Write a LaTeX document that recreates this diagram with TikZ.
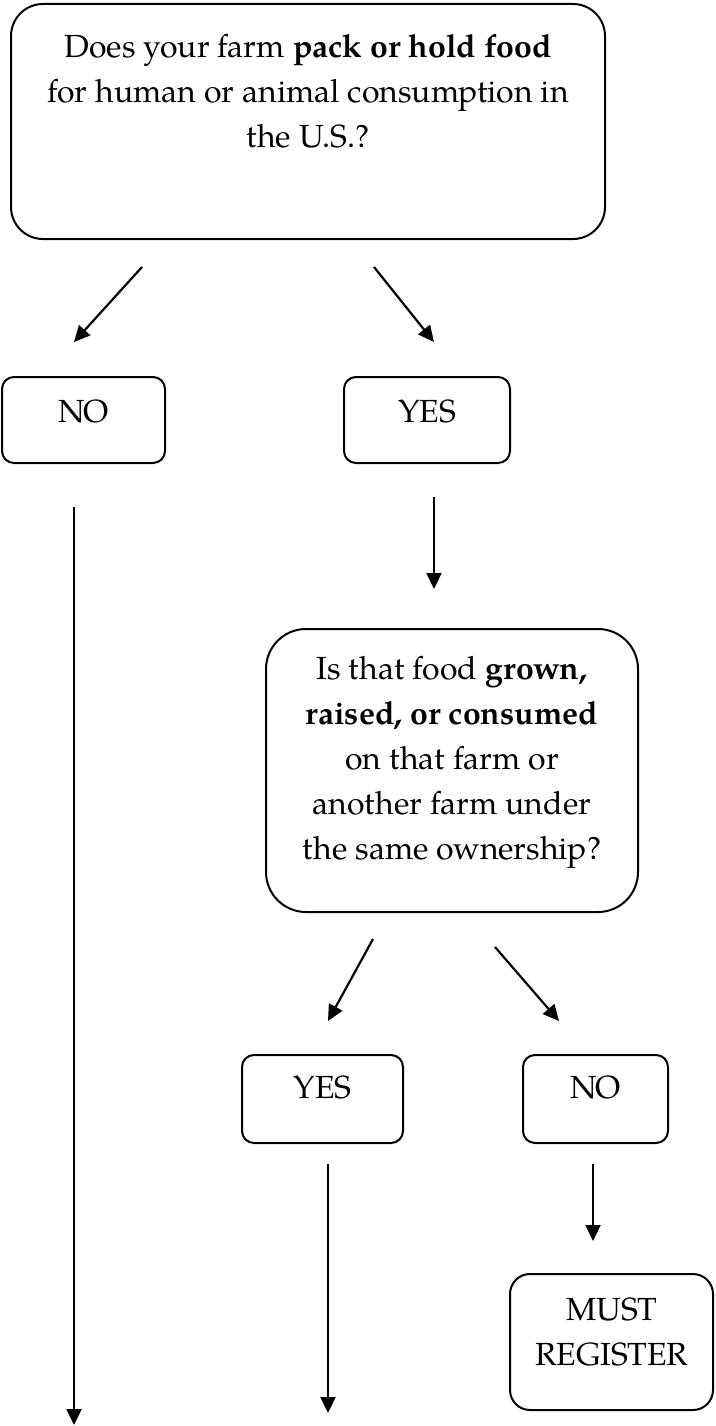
\documentclass[tikz,border=0pt]{standalone}
\usepackage{fontspec}
\setmainfont{TeX Gyre Pagella}
\usetikzlibrary{arrows.meta}
\begin{document}
\begin{tikzpicture}[x=1pt,y=-1pt,
  box/.style={draw, line width=2pt, rounded corners=#1, inner sep=0pt},
  txt/.style={align=center, font=\fontsize{32}{45}\selectfont, inner sep=0pt},
  arr/.style={line width=2.2pt, -{Triangle[length=16pt,width=15pt]}}]
\useasboundingbox (0,0) rectangle (715,1426);
% boxes
\node[box=32pt, minimum width=594pt, minimum height=235pt] (q1) at (308,121.5) {};
\node[txt] (q1t) at (308,91) {Does your farm \textbf{pack or hold food}\\for human or animal consumption in\\the U.S.?};
\node[box=12pt, minimum width=163pt, minimum height=86pt] (no1) at (83.5,420) {};
\node[txt] (no1t) at (83.5,411) {NO};
\node[box=12pt, minimum width=166pt, minimum height=86pt] (yes1) at (427,420) {};
\node[txt] (yes1t) at (427,411) {YES};
\node[box=40pt, minimum width=372pt, minimum height=283pt] (q2) at (452,770.5) {};
\node[txt] (q2t) at (452,762) {Is that food \textbf{grown,}\\\textbf{raised, or consumed}\\on that farm or\\another farm under\\the same ownership?};
\node[box=12pt, minimum width=161pt, minimum height=88pt] (yes2) at (322.5,1099) {};
\node[txt] (yes2t) at (322.5,1087) {YES};
\node[box=12pt, minimum width=145pt, minimum height=88pt] (no2) at (595.5,1099) {};
\node[txt] (no2t) at (595.5,1087) {NO};
\node[box=20pt, minimum width=203pt, minimum height=136pt] (must) at (611.5,1342) {};
\node[txt] (mustt) at (611.5,1332) {MUST\\REGISTER};
% connector end points
\coordinate (a1s) at (142,267); \coordinate (a1e) at (74,342);
\coordinate (a2s) at (374,267); \coordinate (a2e) at (434,342);
\coordinate (a3s) at (74,507);  \coordinate (a3e) at (74,1425);
\coordinate (a4s) at (434,497); \coordinate (a4e) at (434,589);
\coordinate (a5s) at (373,939); \coordinate (a5e) at (328,1021);
\coordinate (a6s) at (495,947); \coordinate (a6e) at (559,1021);
\coordinate (a7s) at (328,1164); \coordinate (a7e) at (328,1413);
\coordinate (a8s) at (593,1164); \coordinate (a8e) at (593,1241);
\draw[arr] (a1s) -- (a1e);
\draw[arr] (a2s) -- (a2e);
\draw[arr] (a3s) -- (a3e);
\draw[arr] (a4s) -- (a4e);
\draw[arr] (a5s) -- (a5e);
\draw[arr] (a6s) -- (a6e);
\draw[arr] (a7s) -- (a7e);
\draw[arr] (a8s) -- (a8e);
\end{tikzpicture}
\end{document}
